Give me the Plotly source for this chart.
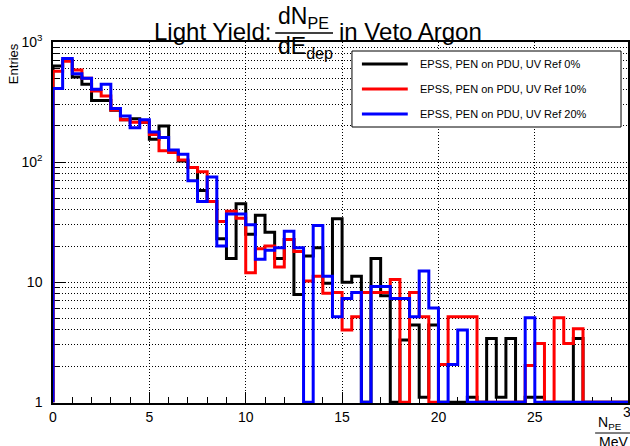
import numpy as np
import plotly.graph_objects as go

# ---------------- data ----------------
BIN_WIDTH = 0.5
N_BINS = 60
series_names = ["EPSS, PEN on PDU, UV Ref 0%",
                "EPSS, PEN on PDU, UV Ref 10%",
                "EPSS, PEN on PDU, UV Ref 20%"]
series_colors = ["#000000", "#ff0000", "#0000ff"]

ref0 = [630, 700, 510, 445, 325, 325, 270, 225, 230, 215,
        155, 200, 122, 102, 90, 58, 47, 23, 15.7, 45,
        25, 36, 26, 15.7, 22.7, 7.9, 16.5, 19.3, 9.8, 33.7,
        10, 11.2, 0, 15.7, 7.7, 0, 3.3, 4.4, 1.1, 4.4,
        0, 0, 0, 1.1, 0, 3.4, 1.1, 3.4, 0, 1.1,
        1.1, 0, 0, 0, 3.4, 0, 0, 0, 0, 0]
ref10 = [570, 690, 585, 500, 390, 355, 272, 225, 215, 215,
         170, 124, 120, 104, 90, 83, 47, 32, 39, 34,
         12, 19, 20, 13.4, 22.7, 18, 10.2, 11.2, 8.1, 8.2,
         4.0, 5.15, 8.2, 8.2, 8.2, 10.5, 0, 8.2, 5.15, 0,
         2.06, 5.15, 5.15, 5.15, 0, 0, 0, 0, 0, 2.02,
         3.08, 0, 5.05, 3.08, 4.1, 0, 0, 0, 0, 0]
ref20 = [410, 730, 545, 500, 405, 444, 279, 242, 193, 225,
         178, 160, 126, 116, 70, 47, 75, 20, 37, 37,
         30, 15.5, 18.4, 19.3, 26.6, 19.3, 0, 29.7, 11.2, 5.15,
         7.3, 8.2, 0, 9.2, 9.2, 7.3, 7.3, 5.15, 12.4, 6.1,
         0, 2.06, 4.0, 0, 0, 0, 0, 0, 0, 5.05,
         0, 0, 0, 0, 0, 0, 0, 0, 0, 0]
series_values = [ref0, ref10, ref20]

x_tick_vals = [0, 5, 10, 15, 20, 25]
y_tick_vals = [1, 10, 100, 1000]
y_tick_text = ["1", "10", "10<sup>2</sup>", "10<sup>3</sup>"]
y_minor_vals = [m * 10 ** d for d in range(3) for m in range(2, 10)]

# ---------------- geometry ----------------
W, H = 630, 446
L, R, T, B = 53, 0, 42, 43
PW, PH = W - L - R, H - T - B
PX_PER_UNIT = 19.34
X_MAX = PW / PX_PER_UNIT
Y_FLOOR = 1.0
FONT = "Liberation Sans, Arial, Helvetica, sans-serif"


def px(xp):
    return (xp - L) / PW


def py(yp):
    return (H - B - yp) / PH


edges = np.arange(N_BINS + 1) * BIN_WIDTH

fig = go.Figure()
for name, col, vals in zip(series_names, series_colors, series_values):
    v = np.maximum(np.asarray(vals, dtype=float), Y_FLOOR)
    xs = np.concatenate([[edges[0]], edges])
    ys = np.concatenate([[Y_FLOOR], v, [v[-1]]])
    fig.add_trace(go.Scatter(x=xs, y=ys, mode="lines", name=name,
                             line=dict(color=col, width=3, shape="hv"),
                             showlegend=False, hoverinfo="skip"))

grid_dash = "1px,2px"
fig.update_layout(
    width=W, height=H,
    margin=dict(l=L, r=R, t=T, b=B, pad=0),
    paper_bgcolor="white", plot_bgcolor="white",
    font=dict(family=FONT, size=14, color="black"),
    xaxis=dict(range=[0, X_MAX], tickvals=x_tick_vals, ticks="inside",
               ticklen=11, tickwidth=1, tickcolor="black",
               showline=True, linecolor="black", linewidth=1.5, mirror=True,
               showgrid=True, gridcolor="black", gridwidth=1, griddash=grid_dash,
               zeroline=False, layer="below traces",
               minor=dict(dtick=1, ticks="inside", ticklen=6, tickcolor="black",
                          showgrid=False),
               tickfont=dict(size=14)),
    yaxis=dict(type="log", range=[np.log10(0.985), 3], tickvals=y_tick_vals,
               ticktext=y_tick_text, ticks="inside", ticklen=12, tickwidth=1,
               tickcolor="black", showline=True, linecolor="black", linewidth=1.5,
               mirror=True, showgrid=True, gridcolor="black", gridwidth=1,
               griddash=grid_dash, zeroline=False, layer="below traces",
               ticklabelstandoff=6,
               minor=dict(tickvals=y_minor_vals, ticks="inside", ticklen=6,
                          tickcolor="black", showgrid=True, gridcolor="black",
                          gridwidth=1, griddash=grid_dash),
               tickfont=dict(size=14)),
)

shapes = []
ann = []

# title: Light Yield: dN_PE / dE_dep in Veto Argon
TS = 24
ann.append(dict(text="Light Yield:", x=px(153), y=py(31), xanchor="left", yanchor="middle",
                font=dict(size=TS)))
ann.append(dict(text="dN<sub>PE</sub>", x=px(278), y=py(17), xanchor="left", yanchor="middle",
                font=dict(size=23)))
shapes.append(dict(type="line", xref="paper", yref="paper", x0=px(276), x1=px(334),
                   y0=py(33), y1=py(33), line=dict(color="black", width=1.5)))
ann.append(dict(text="dE<sub>dep</sub>", x=px(278), y=py(48), xanchor="left", yanchor="middle",
                font=dict(size=23)))
ann.append(dict(text="in Veto Argon", x=px(339), y=py(31), xanchor="left", yanchor="middle",
                font=dict(size=TS)))

# y title
ann.append(dict(text="Entries", x=px(14), y=py(64), textangle=-90, xanchor="center",
                yanchor="middle", font=dict(size=13)))

# x title: N_PE / MeV
ann.append(dict(text="N<sub>PE</sub>", x=px(612), y=py(423), xanchor="center", yanchor="middle",
                font=dict(size=14)))
shapes.append(dict(type="line", xref="paper", yref="paper", x0=px(597), x1=px(632),
                   y0=py(433), y1=py(433), line=dict(color="black", width=1)))
ann.append(dict(text="MeV", x=px(615), y=py(442), xanchor="center", yanchor="middle",
                font=dict(size=14)))
# "30" tick label partially outside the window
ann.append(dict(text="30", x=px(633), y=py(412), xanchor="center", yanchor="middle",
                font=dict(size=14)))

# legend box
LX0, LX1, LY0, LY1 = 353, 623, 51, 127
shapes.append(dict(type="rect", xref="paper", yref="paper", x0=px(LX0), x1=px(LX1),
                   y0=py(LY1), y1=py(LY0), line=dict(color="black", width=1),
                   fillcolor="white", layer="above"))
for i, (name, col) in enumerate(zip(series_names, series_colors)):
    yy = 64 + i * 25
    shapes.append(dict(type="line", xref="paper", yref="paper", x0=px(363), x1=px(409),
                       y0=py(yy), y1=py(yy), line=dict(color=col, width=3), layer="above"))
    ann.append(dict(text=name, x=px(420), y=py(yy), xanchor="left", yanchor="middle",
                    font=dict(size=11)))

for a in ann:
    a.setdefault("xref", "paper")
    a.setdefault("yref", "paper")
    a.setdefault("showarrow", False)
    a.setdefault("borderpad", 0)

fig.update_layout(shapes=shapes, annotations=ann)
fig.write_html("out.html")
